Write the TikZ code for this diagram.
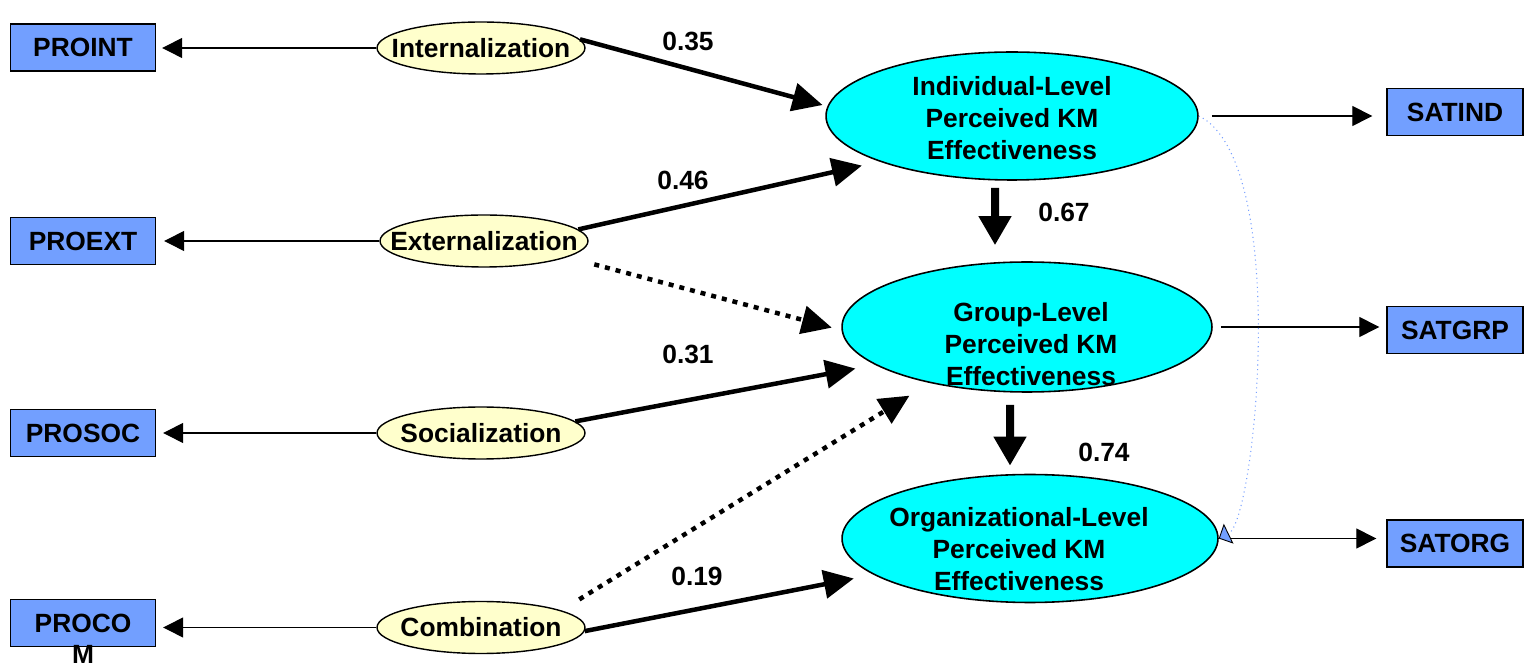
\documentclass[tikz,border=0pt]{standalone}
\usepackage{fontspec}
\setmainfont{Liberation Sans}
\usetikzlibrary{shapes.geometric,arrows.meta}
\definecolor{boxblue}{RGB}{114,159,255}
\definecolor{lvlcyan}{RGB}{0,255,255}
\definecolor{modeyellow}{RGB}{255,255,204}
\definecolor{linkblue}{RGB}{120,160,255}
\begin{document}
\begin{tikzpicture}[x=0.02cm,y=-0.02cm,
  every node/.style={font=\fontsize{15}{18}\selectfont\bfseries},
  indicator/.style={draw=black,line width=0.8pt,fill=boxblue,minimum width=2.9cm,minimum height=0.94cm,inner sep=0pt},
  satbox/.style={indicator,minimum width=2.72cm},
  mode/.style={ellipse,draw=black,line width=0.8pt,fill=modeyellow,minimum width=4.16cm,minimum height=1.04cm,inner sep=0pt},
  level/.style={ellipse,draw=black,line width=0.9pt,fill=lvlcyan,inner sep=0pt},
  lvltext/.style={align=center,inner sep=0pt},
  coef/.style={inner sep=0pt},
  effect/.style={line width=0.09cm,-{Triangle[length=0.6cm,width=0.56cm]}},
  effectdot/.style={effect,dash pattern=on 0.1cm off 0.12cm},
  stepdown/.style={line width=0.16cm,-{Triangle[length=0.58cm,width=0.62cm]}},
  loading/.style={line width=0.7pt,-{Triangle[length=0.4cm,width=0.4cm]}},
]
\fill[white] (0,0) rectangle (1525,668);
\useasboundingbox (0,0) rectangle (1525,668);

% indicator boxes on the left
\node[indicator] (proint) at (83,47.5) {PROINT};
\node[indicator] (proext) at (83,241) {PROEXT};
\node[indicator] (prosoc) at (83,433) {PROSOC};
\node[indicator,label={[name=procomM,inner sep=0pt,yshift=0.05cm]below:M}] (procom) at (83,623) {PROCO};

% knowledge conversion modes
\node[mode] (int) at (481,48) {\makebox[0pt]{Internalization}};
\node[mode] (ext) at (484,241) {\makebox[0pt]{Externalization}};
\node[mode] (soc) at (481,433) {\makebox[0pt]{Socialization}};
\node[mode] (com) at (481,627.5) {\makebox[0pt]{Combination}};

% perceived effectiveness levels
\node[level,minimum width=7.44cm,minimum height=2.56cm] (ind) at (1012,116) {};
\node[level,minimum width=7.4cm,minimum height=2.6cm] (grp) at (1027,327) {};
\node[level,minimum width=7.52cm,minimum height=2.56cm] (org) at (1030,538.5) {};
\node[lvltext] (indT) at (1012,118) {Individual-Level\\Perceived KM\\Effectiveness};
\node[lvltext] (grpT) at (1031,344) {Group-Level\\Perceived KM\\Effectiveness};
\node[lvltext] (orgT) at (1019,549) {Organizational-Level\\Perceived KM\\Effectiveness};

% indicator boxes on the right
\node[satbox] (satind) at (1455,112) {SATIND};
\node[satbox] (satgrp) at (1455,330) {SATGRP};
\node[satbox] (satorg) at (1455,543.5) {SATORG};

% path coefficients
\node[coef] (c35) at (688,41) {0.35};
\node[coef] (c46) at (683,180) {0.46};
\node[coef] (c67) at (1064,212) {0.67};
\node[coef] (c31) at (688,354) {0.31};
\node[coef] (c74) at (1104,452) {0.74};
\node[coef] (c19) at (697,576) {0.19};

% measurement arrows
\draw[loading,shorten >=0.12cm] (int.west) -- (int.west -| proint.east);
\draw[loading,shorten >=0.16cm] (ext.west) -- (ext.west -| proext.east);
\draw[loading,shorten >=0.14cm] (soc.west) -- (soc.west -| prosoc.east);
\draw[loading,shorten >=0.14cm] (com.west) -- (com.west -| procom.east);
\draw[loading,shorten <=0.26cm,shorten >=0.28cm] (ind.east) -- (ind.east -| satind.west);
\draw[loading,shorten <=0.16cm,shorten >=0.14cm] (grp.east) -- (grp.east -| satgrp.west);
\draw[loading,shorten <=0.08cm,shorten >=0.2cm] (org.east) -- (org.east -| satorg.west);

% structural paths
\draw[effect,shorten >=0.1cm] (int.5) -- (ind.177);
\draw[effect,shorten >=0.36cm] (ext.7) -- (ind.199);
\draw[effectdot,shorten <=0.56cm,shorten >=0.2cm] (ext.-11) -- (grp.181);
\draw[effect,shorten >=0.4cm] (soc.7) -- (grp.194);
\draw[effectdot,shorten <=0.42cm,shorten >=0.48cm] (com.12) -- (grp.210);
\draw[effect,shorten >=0.4cm] (com.-2) -- (org.193);
\draw[stepdown] ([xshift=-0.34cm,yshift=-0.14cm]ind.south) -- ([xshift=-0.64cm,yshift=0.32cm]grp.north);
\draw[stepdown] ([xshift=-0.34cm,yshift=-0.24cm]grp.south) -- ([xshift=-0.4cm,yshift=0.16cm]org.north);

% correlation between individual and organizational levels
\draw[linkblue,line width=0.6pt,dotted,-{Triangle[length=0.22cm,width=0.44cm,fill=boxblue,color=black,line width=0.5pt]}]
  (ind.east) .. controls +(92,44) and +(37,-18) .. (org.east);
\end{tikzpicture}
\end{document}
